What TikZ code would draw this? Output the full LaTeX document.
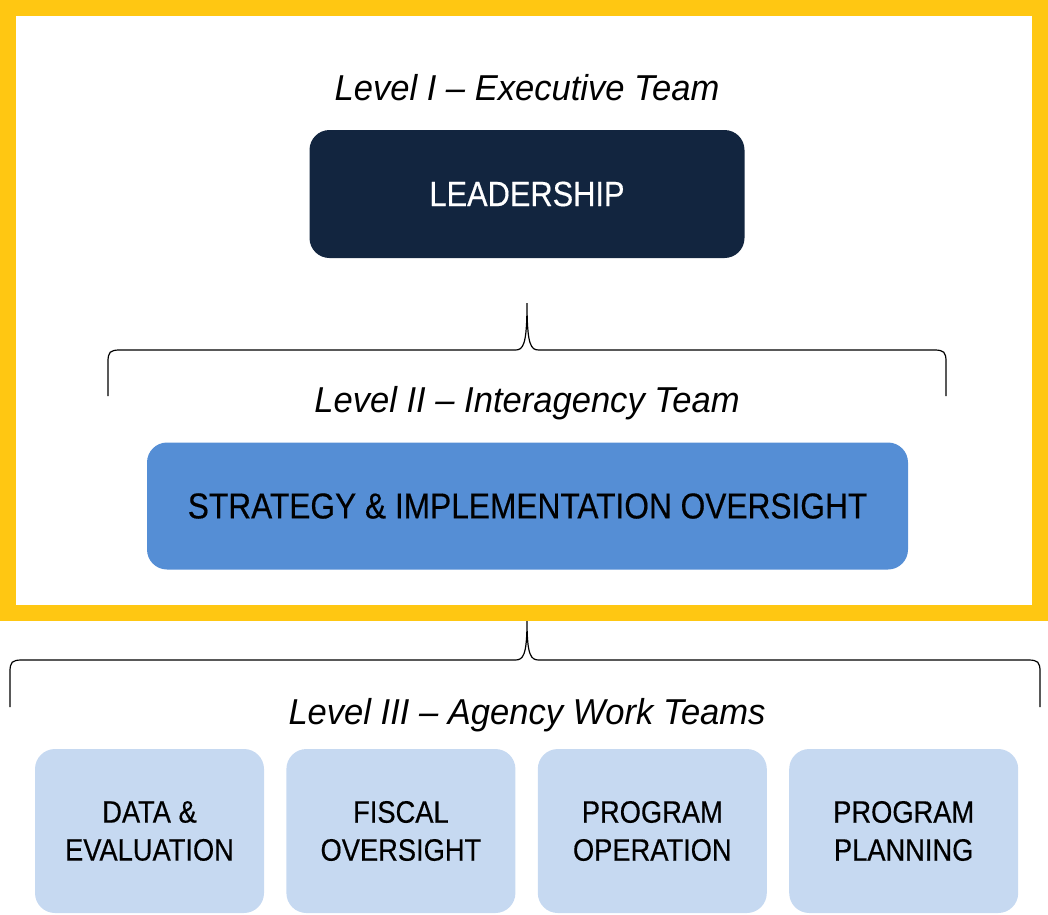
\documentclass[tikz,border=0pt]{standalone}
\usepackage{fontspec}
\setmainfont{Liberation Sans}[FakeStretch=0.88, FakeBold=0.4]
\newfontfamily\titlefont{Liberation Sans}[FakeStretch=0.96, Ligatures=TeX]
\usepackage{xcolor}
\usepackage{tikz}
\usetikzlibrary{positioning}

\definecolor{frameyellow}{HTML}{FFC712}
\definecolor{navy}{HTML}{12253F}
\definecolor{midblue}{HTML}{558ED5}
\definecolor{paleblue}{HTML}{C6D9F1}

\tikzset{
  levelbox/.style={rounded corners=20pt, inner sep=0pt, align=center},
  teambox/.style={levelbox, fill=paleblue, minimum width=229pt, minimum height=164pt,
    font=\fontsize{31}{38}\selectfont},
  leveltitle/.style={anchor=base, font=\titlefont\fontsize{36}{40}\selectfont\itshape},
  bracket/.style={line width=1.2pt},
}

\begin{document}
\begin{tikzpicture}[x=1pt,y=-1pt]

% Canvas
\useasboundingbox (0,0) rectangle (1048,914);

% Yellow frame round levels I and II
\draw[frameyellow, line width=16pt] (8,8) rectangle (1040,613);

% Level I
\node[leveltitle] (titleI) at (527,100) {Level I \textendash{} Executive Team};
\node[levelbox, fill=navy, text=white, minimum width=435pt, minimum height=128pt,
  font=\fontsize{35}{40}\selectfont] (lead) at (527,194) {LEADERSHIP};

% Brace under leadership
\coordinate (tipI) at (527,303);
\draw[bracket] (108,396) -- (108,362) .. controls (108,352) and (110,350) .. (120,350)
  -- (515,350) .. controls (523,350) and (527,346) .. (tipI)
  .. controls (527,346) and (531,350) .. (539,350) -- (934,350)
  .. controls (944,350) and (946,352) .. (946,362) -- (946,396);

% Level II
\node[leveltitle] (titleII) at (527,412) {Level II \textendash{} Interagency Team};
\node[levelbox, fill=midblue, minimum width=761pt, minimum height=127pt,
  font=\fontsize{36}{40}\selectfont] (strat) at (527.5,506) {STRATEGY \& IMPLEMENTATION OVERSIGHT};

% Brace under the frame
\coordinate (tipII) at (527,621);
\draw[bracket] (10,707) -- (10,672) .. controls (10,662) and (12,660) .. (22,660)
  -- (515,660) .. controls (523,660) and (527,656) .. (tipII)
  .. controls (527,656) and (531,660) .. (539,660) -- (1028,660)
  .. controls (1038,660) and (1040,662) .. (1040,672) -- (1040,707);

% Level III
\node[leveltitle] (titleIII) at (527,724) {Level III \textendash{} Agency Work Teams};
\node[teambox] (data) at (149.5,831) {DATA \&\\EVALUATION};
\node[teambox, right=22pt of data] (fiscal) {FISCAL\\OVERSIGHT};
\node[teambox, right=22pt of fiscal] (operation) {PROGRAM\\OPERATION};
\node[teambox, right=22pt of operation] (planning) {PROGRAM\\PLANNING};

\end{tikzpicture}
\end{document}
